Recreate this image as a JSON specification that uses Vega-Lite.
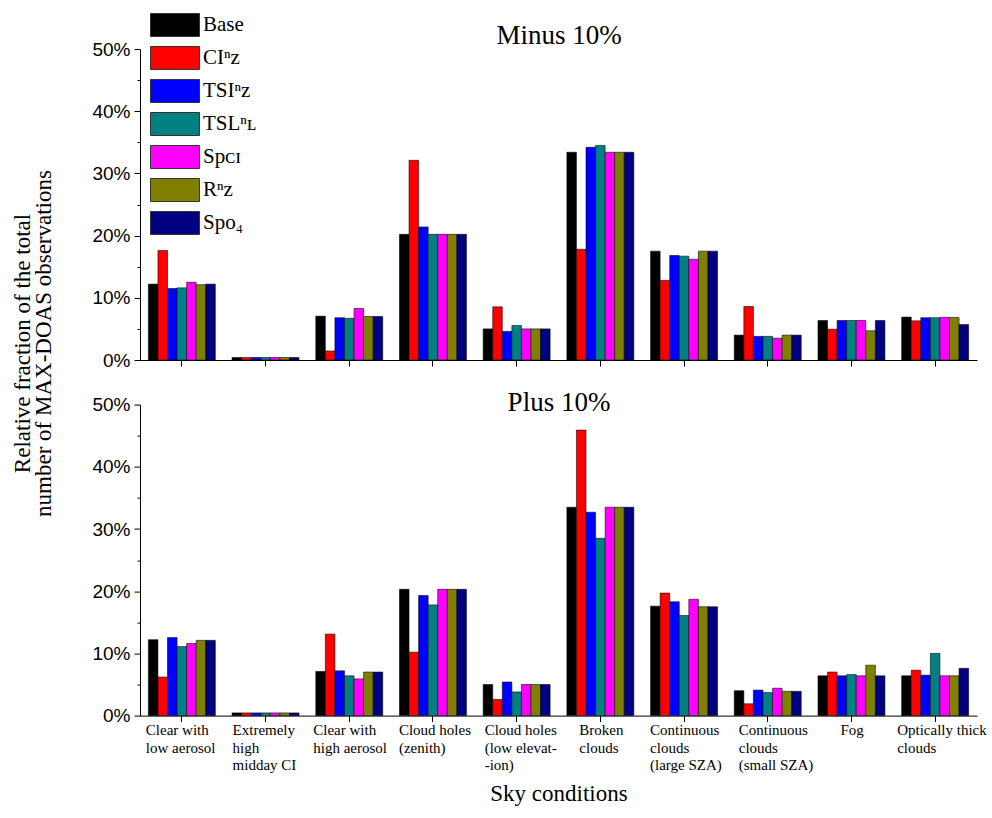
{
  "$schema": "https://vega.github.io/schema/vega-lite/v6.json",
  "padding": {"left": 11, "top": 13, "right": 5, "bottom": 5},
  "config": {"view": {"stroke": null}, "font": "Liberation Serif", "axis": {"domainColor": "#000", "tickColor": "#000", "grid": false, "labelColor": "#000", "titleColor": "#000"}},
  "bounds": "flush",
  "spacing": 44.6,
  "datasets": {
    "d": [
      {"panel": "minus", "cat": "Clear with low aerosol", "series": "Base", "value": 12.2},
      {"panel": "minus", "cat": "Clear with low aerosol", "series": "CI", "value": 17.6},
      {"panel": "minus", "cat": "Clear with low aerosol", "series": "TSI", "value": 11.5},
      {"panel": "minus", "cat": "Clear with low aerosol", "series": "TSL", "value": 11.6},
      {"panel": "minus", "cat": "Clear with low aerosol", "series": "SpCI", "value": 12.5},
      {"panel": "minus", "cat": "Clear with low aerosol", "series": "R", "value": 12.1},
      {"panel": "minus", "cat": "Clear with low aerosol", "series": "SpO4", "value": 12.2},
      {"panel": "minus", "cat": "Extremely high midday CI", "series": "Base", "value": 0.4},
      {"panel": "minus", "cat": "Extremely high midday CI", "series": "CI", "value": 0.4},
      {"panel": "minus", "cat": "Extremely high midday CI", "series": "TSI", "value": 0.4},
      {"panel": "minus", "cat": "Extremely high midday CI", "series": "TSL", "value": 0.4},
      {"panel": "minus", "cat": "Extremely high midday CI", "series": "SpCI", "value": 0.4},
      {"panel": "minus", "cat": "Extremely high midday CI", "series": "R", "value": 0.4},
      {"panel": "minus", "cat": "Extremely high midday CI", "series": "SpO4", "value": 0.4},
      {"panel": "minus", "cat": "Clear with high aerosol", "series": "Base", "value": 7.05},
      {"panel": "minus", "cat": "Clear with high aerosol", "series": "CI", "value": 1.45},
      {"panel": "minus", "cat": "Clear with high aerosol", "series": "TSI", "value": 6.8},
      {"panel": "minus", "cat": "Clear with high aerosol", "series": "TSL", "value": 6.7},
      {"panel": "minus", "cat": "Clear with high aerosol", "series": "SpCI", "value": 8.3},
      {"panel": "minus", "cat": "Clear with high aerosol", "series": "R", "value": 7.0},
      {"panel": "minus", "cat": "Clear with high aerosol", "series": "SpO4", "value": 7.0},
      {"panel": "minus", "cat": "Cloud holes (zenith)", "series": "Base", "value": 20.2},
      {"panel": "minus", "cat": "Cloud holes (zenith)", "series": "CI", "value": 32.1},
      {"panel": "minus", "cat": "Cloud holes (zenith)", "series": "TSI", "value": 21.4},
      {"panel": "minus", "cat": "Cloud holes (zenith)", "series": "TSL", "value": 20.2},
      {"panel": "minus", "cat": "Cloud holes (zenith)", "series": "SpCI", "value": 20.2},
      {"panel": "minus", "cat": "Cloud holes (zenith)", "series": "R", "value": 20.2},
      {"panel": "minus", "cat": "Cloud holes (zenith)", "series": "SpO4", "value": 20.2},
      {"panel": "minus", "cat": "Cloud holes (low elevation)", "series": "Base", "value": 5.0},
      {"panel": "minus", "cat": "Cloud holes (low elevation)", "series": "CI", "value": 8.55},
      {"panel": "minus", "cat": "Cloud holes (low elevation)", "series": "TSI", "value": 4.6},
      {"panel": "minus", "cat": "Cloud holes (low elevation)", "series": "TSL", "value": 5.55},
      {"panel": "minus", "cat": "Cloud holes (low elevation)", "series": "SpCI", "value": 5.0},
      {"panel": "minus", "cat": "Cloud holes (low elevation)", "series": "R", "value": 5.0},
      {"panel": "minus", "cat": "Cloud holes (low elevation)", "series": "SpO4", "value": 5.0},
      {"panel": "minus", "cat": "Broken clouds", "series": "Base", "value": 33.4},
      {"panel": "minus", "cat": "Broken clouds", "series": "CI", "value": 17.8},
      {"panel": "minus", "cat": "Broken clouds", "series": "TSI", "value": 34.2},
      {"panel": "minus", "cat": "Broken clouds", "series": "TSL", "value": 34.5},
      {"panel": "minus", "cat": "Broken clouds", "series": "SpCI", "value": 33.4},
      {"panel": "minus", "cat": "Broken clouds", "series": "R", "value": 33.4},
      {"panel": "minus", "cat": "Broken clouds", "series": "SpO4", "value": 33.4},
      {"panel": "minus", "cat": "Continuous clouds (large SZA)", "series": "Base", "value": 17.5},
      {"panel": "minus", "cat": "Continuous clouds (large SZA)", "series": "CI", "value": 12.8},
      {"panel": "minus", "cat": "Continuous clouds (large SZA)", "series": "TSI", "value": 16.8},
      {"panel": "minus", "cat": "Continuous clouds (large SZA)", "series": "TSL", "value": 16.7},
      {"panel": "minus", "cat": "Continuous clouds (large SZA)", "series": "SpCI", "value": 16.2},
      {"panel": "minus", "cat": "Continuous clouds (large SZA)", "series": "R", "value": 17.5},
      {"panel": "minus", "cat": "Continuous clouds (large SZA)", "series": "SpO4", "value": 17.5},
      {"panel": "minus", "cat": "Continuous clouds (small SZA)", "series": "Base", "value": 4.0},
      {"panel": "minus", "cat": "Continuous clouds (small SZA)", "series": "CI", "value": 8.6},
      {"panel": "minus", "cat": "Continuous clouds (small SZA)", "series": "TSI", "value": 3.8},
      {"panel": "minus", "cat": "Continuous clouds (small SZA)", "series": "TSL", "value": 3.8},
      {"panel": "minus", "cat": "Continuous clouds (small SZA)", "series": "SpCI", "value": 3.5},
      {"panel": "minus", "cat": "Continuous clouds (small SZA)", "series": "R", "value": 4.0},
      {"panel": "minus", "cat": "Continuous clouds (small SZA)", "series": "SpO4", "value": 4.0},
      {"panel": "minus", "cat": "Fog", "series": "Base", "value": 6.35},
      {"panel": "minus", "cat": "Fog", "series": "CI", "value": 4.95},
      {"panel": "minus", "cat": "Fog", "series": "TSI", "value": 6.35},
      {"panel": "minus", "cat": "Fog", "series": "TSL", "value": 6.35},
      {"panel": "minus", "cat": "Fog", "series": "SpCI", "value": 6.35},
      {"panel": "minus", "cat": "Fog", "series": "R", "value": 4.7},
      {"panel": "minus", "cat": "Fog", "series": "SpO4", "value": 6.35},
      {"panel": "minus", "cat": "Optically thick clouds", "series": "Base", "value": 6.9},
      {"panel": "minus", "cat": "Optically thick clouds", "series": "CI", "value": 6.3},
      {"panel": "minus", "cat": "Optically thick clouds", "series": "TSI", "value": 6.8},
      {"panel": "minus", "cat": "Optically thick clouds", "series": "TSL", "value": 6.8},
      {"panel": "minus", "cat": "Optically thick clouds", "series": "SpCI", "value": 6.85},
      {"panel": "minus", "cat": "Optically thick clouds", "series": "R", "value": 6.85},
      {"panel": "minus", "cat": "Optically thick clouds", "series": "SpO4", "value": 5.7},
      {"panel": "plus", "cat": "Clear with low aerosol", "series": "Base", "value": 12.2},
      {"panel": "plus", "cat": "Clear with low aerosol", "series": "CI", "value": 6.2},
      {"panel": "plus", "cat": "Clear with low aerosol", "series": "TSI", "value": 12.55},
      {"panel": "plus", "cat": "Clear with low aerosol", "series": "TSL", "value": 11.1},
      {"panel": "plus", "cat": "Clear with low aerosol", "series": "SpCI", "value": 11.6},
      {"panel": "plus", "cat": "Clear with low aerosol", "series": "R", "value": 12.1},
      {"panel": "plus", "cat": "Clear with low aerosol", "series": "SpO4", "value": 12.1},
      {"panel": "plus", "cat": "Extremely high midday CI", "series": "Base", "value": 0.43},
      {"panel": "plus", "cat": "Extremely high midday CI", "series": "CI", "value": 0.43},
      {"panel": "plus", "cat": "Extremely high midday CI", "series": "TSI", "value": 0.43},
      {"panel": "plus", "cat": "Extremely high midday CI", "series": "TSL", "value": 0.43},
      {"panel": "plus", "cat": "Extremely high midday CI", "series": "SpCI", "value": 0.43},
      {"panel": "plus", "cat": "Extremely high midday CI", "series": "R", "value": 0.43},
      {"panel": "plus", "cat": "Extremely high midday CI", "series": "SpO4", "value": 0.43},
      {"panel": "plus", "cat": "Clear with high aerosol", "series": "Base", "value": 7.1},
      {"panel": "plus", "cat": "Clear with high aerosol", "series": "CI", "value": 13.1},
      {"panel": "plus", "cat": "Clear with high aerosol", "series": "TSI", "value": 7.2},
      {"panel": "plus", "cat": "Clear with high aerosol", "series": "TSL", "value": 6.4},
      {"panel": "plus", "cat": "Clear with high aerosol", "series": "SpCI", "value": 5.9},
      {"panel": "plus", "cat": "Clear with high aerosol", "series": "R", "value": 7.0},
      {"panel": "plus", "cat": "Clear with high aerosol", "series": "SpO4", "value": 7.0},
      {"panel": "plus", "cat": "Cloud holes (zenith)", "series": "Base", "value": 20.3},
      {"panel": "plus", "cat": "Cloud holes (zenith)", "series": "CI", "value": 10.2},
      {"panel": "plus", "cat": "Cloud holes (zenith)", "series": "TSI", "value": 19.3},
      {"panel": "plus", "cat": "Cloud holes (zenith)", "series": "TSL", "value": 17.8},
      {"panel": "plus", "cat": "Cloud holes (zenith)", "series": "SpCI", "value": 20.3},
      {"panel": "plus", "cat": "Cloud holes (zenith)", "series": "R", "value": 20.3},
      {"panel": "plus", "cat": "Cloud holes (zenith)", "series": "SpO4", "value": 20.3},
      {"panel": "plus", "cat": "Cloud holes (low elevation)", "series": "Base", "value": 5.0},
      {"panel": "plus", "cat": "Cloud holes (low elevation)", "series": "CI", "value": 2.6},
      {"panel": "plus", "cat": "Cloud holes (low elevation)", "series": "TSI", "value": 5.4},
      {"panel": "plus", "cat": "Cloud holes (low elevation)", "series": "TSL", "value": 3.8},
      {"panel": "plus", "cat": "Cloud holes (low elevation)", "series": "SpCI", "value": 5.0},
      {"panel": "plus", "cat": "Cloud holes (low elevation)", "series": "R", "value": 5.0},
      {"panel": "plus", "cat": "Cloud holes (low elevation)", "series": "SpO4", "value": 5.0},
      {"panel": "plus", "cat": "Broken clouds", "series": "Base", "value": 33.5},
      {"panel": "plus", "cat": "Broken clouds", "series": "CI", "value": 45.9},
      {"panel": "plus", "cat": "Broken clouds", "series": "TSI", "value": 32.7},
      {"panel": "plus", "cat": "Broken clouds", "series": "TSL", "value": 28.5},
      {"panel": "plus", "cat": "Broken clouds", "series": "SpCI", "value": 33.5},
      {"panel": "plus", "cat": "Broken clouds", "series": "R", "value": 33.5},
      {"panel": "plus", "cat": "Broken clouds", "series": "SpO4", "value": 33.5},
      {"panel": "plus", "cat": "Continuous clouds (large SZA)", "series": "Base", "value": 17.6},
      {"panel": "plus", "cat": "Continuous clouds (large SZA)", "series": "CI", "value": 19.7},
      {"panel": "plus", "cat": "Continuous clouds (large SZA)", "series": "TSI", "value": 18.3},
      {"panel": "plus", "cat": "Continuous clouds (large SZA)", "series": "TSL", "value": 16.1},
      {"panel": "plus", "cat": "Continuous clouds (large SZA)", "series": "SpCI", "value": 18.7},
      {"panel": "plus", "cat": "Continuous clouds (large SZA)", "series": "R", "value": 17.5},
      {"panel": "plus", "cat": "Continuous clouds (large SZA)", "series": "SpO4", "value": 17.5},
      {"panel": "plus", "cat": "Continuous clouds (small SZA)", "series": "Base", "value": 4.0},
      {"panel": "plus", "cat": "Continuous clouds (small SZA)", "series": "CI", "value": 1.9},
      {"panel": "plus", "cat": "Continuous clouds (small SZA)", "series": "TSI", "value": 4.1},
      {"panel": "plus", "cat": "Continuous clouds (small SZA)", "series": "TSL", "value": 3.7},
      {"panel": "plus", "cat": "Continuous clouds (small SZA)", "series": "SpCI", "value": 4.4},
      {"panel": "plus", "cat": "Continuous clouds (small SZA)", "series": "R", "value": 3.9},
      {"panel": "plus", "cat": "Continuous clouds (small SZA)", "series": "SpO4", "value": 3.9},
      {"panel": "plus", "cat": "Fog", "series": "Base", "value": 6.4},
      {"panel": "plus", "cat": "Fog", "series": "CI", "value": 7.0},
      {"panel": "plus", "cat": "Fog", "series": "TSI", "value": 6.4},
      {"panel": "plus", "cat": "Fog", "series": "TSL", "value": 6.6},
      {"panel": "plus", "cat": "Fog", "series": "SpCI", "value": 6.4},
      {"panel": "plus", "cat": "Fog", "series": "R", "value": 8.1},
      {"panel": "plus", "cat": "Fog", "series": "SpO4", "value": 6.4},
      {"panel": "plus", "cat": "Optically thick clouds", "series": "Base", "value": 6.4},
      {"panel": "plus", "cat": "Optically thick clouds", "series": "CI", "value": 7.3},
      {"panel": "plus", "cat": "Optically thick clouds", "series": "TSI", "value": 6.5},
      {"panel": "plus", "cat": "Optically thick clouds", "series": "TSL", "value": 10.0},
      {"panel": "plus", "cat": "Optically thick clouds", "series": "SpCI", "value": 6.4},
      {"panel": "plus", "cat": "Optically thick clouds", "series": "R", "value": 6.4},
      {"panel": "plus", "cat": "Optically thick clouds", "series": "SpO4", "value": 7.6}
    ]
  },
  "vconcat": [
    {
      "width": 837,
      "height": 311,
      "data": {"name": "d"},
      "transform": [{"filter": "datum.panel == 'minus'"}],
      "encoding": {
        "xOffset": {
          "field": "series", "type": "nominal",
          "sort": ["Base", "CI", "TSI", "TSL", "SpCI", "R", "SpO4"],
          "scale": {"paddingInner": 0, "paddingOuter": 0}
        },
        "y": {
          "field": "value", "type": "quantitative",
          "scale": {"domain": [0, 50], "nice": false},
          "axis": {
            "values": [0, 5, 10, 15, 20, 25, 30, 35, 40, 45, 50],
            "labelExpr": "datum.value % 10 == 0 ? datum.value + '%' : ''",
            "tickSize": {"condition": {"test": "datum.value % 10 != 0", "value": 3}, "value": 6},
            "labelFont": "Liberation Sans", "labelFontSize": 19, "labelPadding": 4,
            "title": ["Relative fraction of the total", "number of MAX-DOAS observations"],
            "titleFont": "Liberation Serif", "titleFontSize": 23, "titleFontWeight": "normal",
            "titleX": -106, "titleY": 294, "titleAngle": -90, "titleLineHeight": 21,
            "titleBaseline": "bottom", "titleAlign": "center"
          }
        }
      },
      "layer": [
        {
          "mark": {"type": "bar", "stroke": "#000", "strokeWidth": 0.8, "strokeOpacity": 0.7},
          "encoding": {
            "x": {
              "field": "cat", "type": "nominal",
              "sort": ["Clear with low aerosol", "Extremely high midday CI", "Clear with high aerosol", "Cloud holes (zenith)", "Cloud holes (low elevation)", "Broken clouds", "Continuous clouds (large SZA)", "Continuous clouds (small SZA)", "Fog", "Optically thick clouds"],
              "scale": {"paddingInner": 0.2, "paddingOuter": 0.1},
              "axis": {"title": null, "labels": false, "tickSize": 6}
            },
            "color": {
              "field": "series", "type": "nominal",
              "sort": ["Base", "CI", "TSI", "TSL", "SpCI", "R", "SpO4"],
              "scale": {"domain": ["Base", "CI", "TSI", "TSL", "SpCI", "R", "SpO4"], "range": ["#000000", "#ff0000", "#0000ff", "#008080", "#ff00ff", "#808000", "#000080"]},
              "legend": {
                "orient": "none", "legendX": 10, "legendY": -36, "title": null,
                "symbolType": "M-1,-1H3.26V1H-1Z", "symbolSize": 529,
                "symbolStrokeColor": "#333", "symbolStrokeWidth": 1, "symbolOpacity": 1,
                "labelFont": "Liberation Serif", "labelFontSize": 21, "labelColor": "#000",
                "labelOffset": 29, "rowPadding": 5,
                "labelExpr": "{'Base': 'Base', 'CI': 'CIⁿz', 'TSI': 'TSIⁿz', 'TSL': 'TSLⁿʟ', 'SpCI': 'Spᴄɪ', 'R': 'Rⁿz', 'SpO4': 'Spᴏ₄'}[datum.label]"
              }
            }
          }
        },
        {
          "mark": {"type": "bar", "opacity": 0},
          "encoding": {
            "x": {
              "field": "cat", "type": "nominal",
              "sort": ["Clear with low aerosol", "Extremely high midday CI", "Clear with high aerosol", "Cloud holes (zenith)", "Cloud holes (low elevation)", "Broken clouds", "Continuous clouds (large SZA)", "Continuous clouds (small SZA)", "Fog", "Optically thick clouds"],
              "scale": {"paddingInner": 0.2, "paddingOuter": 0.1},
              "axis": {"orient": "top", "domain": false, "ticks": false, "labels": false, "title": "Minus 10%", "titleFont": "Liberation Serif", "titleFontSize": 27, "titleFontWeight": "normal", "titleBaseline": "alphabetic", "titleY": -6, "titleColor": "#000"}
            }
          }
        }
      ],
      "resolve": {"axis": {"x": "independent"}}
    },
    {
      "width": 837,
      "height": 311,
      "data": {"name": "d"},
      "transform": [{"filter": "datum.panel == 'plus'"}],
      "encoding": {
        "xOffset": {
          "field": "series", "type": "nominal",
          "sort": ["Base", "CI", "TSI", "TSL", "SpCI", "R", "SpO4"],
          "scale": {"paddingInner": 0, "paddingOuter": 0}
        },
        "y": {
          "field": "value", "type": "quantitative",
          "scale": {"domain": [0, 50], "nice": false},
          "axis": {
            "values": [0, 5, 10, 15, 20, 25, 30, 35, 40, 45, 50],
            "labelExpr": "datum.value % 10 == 0 ? datum.value + '%' : ''",
            "tickSize": {"condition": {"test": "datum.value % 10 != 0", "value": 3}, "value": 6},
            "labelFont": "Liberation Sans", "labelFontSize": 19, "labelPadding": 4,
            "title": null
          }
        }
      },
      "layer": [
        {
          "mark": {"type": "bar", "stroke": "#000", "strokeWidth": 0.8, "strokeOpacity": 0.7},
          "encoding": {
            "x": {
              "field": "cat", "type": "nominal",
              "sort": ["Clear with low aerosol", "Extremely high midday CI", "Clear with high aerosol", "Cloud holes (zenith)", "Cloud holes (low elevation)", "Broken clouds", "Continuous clouds (large SZA)", "Continuous clouds (small SZA)", "Fog", "Optically thick clouds"],
              "scale": {"paddingInner": 0.2, "paddingOuter": 0.1},
              "axis": {
                "title": "Sky conditions", "titleFont": "Liberation Serif", "titleFontSize": 23, "titleFontWeight": "normal", "titlePadding": 10,
                "tickSize": 6, "labelAngle": 0, "labelFont": "Liberation Serif", "labelFontSize": 15, "labelLineHeight": 17.5,
                "labelPadding": 1, "labelBaseline": "top", "labelAlign": "left",
                "labelExpr": "{'Clear with low aerosol': ['Clear with', 'low aerosol'], 'Extremely high midday CI': ['Extremely', 'high', 'midday CI'], 'Clear with high aerosol': ['Clear with', 'high aerosol'], 'Cloud holes (zenith)': ['Cloud holes', '(zenith)'], 'Cloud holes (low elevation)': ['Cloud holes', '(low elevat-', ' -ion)'], 'Broken clouds': ['Broken', 'clouds'], 'Continuous clouds (large SZA)': ['Continuous', 'clouds', '(large SZA)'], 'Continuous clouds (small SZA)': ['Continuous', 'clouds', '(small SZA)'], 'Fog': ['Fog'], 'Optically thick clouds': ['Optically thick', 'clouds']}[datum.label]",
                "labelOffset": {
                  "condition": [
                    {"test": "datum.value == 'Extremely high midday CI'", "value": -33},
                    {"test": "datum.value == 'Cloud holes (zenith)'", "value": -34},
                    {"test": "datum.value == 'Cloud holes (low elevation)'", "value": -32},
                    {"test": "datum.value == 'Broken clouds'", "value": -21},
                    {"test": "datum.value == 'Continuous clouds (large SZA)'", "value": -34},
                    {"test": "datum.value == 'Continuous clouds (small SZA)'", "value": -29},
                    {"test": "datum.value == 'Fog'", "value": -11},
                    {"test": "datum.value == 'Optically thick clouds'", "value": -38}
                  ],
                  "value": -36
                }
              }
            },
            "color": {
              "field": "series", "type": "nominal",
              "scale": {"domain": ["Base", "CI", "TSI", "TSL", "SpCI", "R", "SpO4"], "range": ["#000000", "#ff0000", "#0000ff", "#008080", "#ff00ff", "#808000", "#000080"]},
              "legend": null
            }
          }
        },
        {
          "mark": {"type": "bar", "opacity": 0},
          "encoding": {
            "x": {
              "field": "cat", "type": "nominal",
              "sort": ["Clear with low aerosol", "Extremely high midday CI", "Clear with high aerosol", "Cloud holes (zenith)", "Cloud holes (low elevation)", "Broken clouds", "Continuous clouds (large SZA)", "Continuous clouds (small SZA)", "Fog", "Optically thick clouds"],
              "scale": {"paddingInner": 0.2, "paddingOuter": 0.1},
              "axis": {"orient": "top", "domain": false, "ticks": false, "labels": false, "title": "Plus 10%", "titleFont": "Liberation Serif", "titleFontSize": 27, "titleFontWeight": "normal", "titleBaseline": "alphabetic", "titleY": 5.4, "titleColor": "#000"}
            }
          }
        }
      ],
      "resolve": {"axis": {"x": "independent"}}
    }
  ],
  "resolve": {"scale": {"color": "independent", "x": "independent", "y": "independent"}, "legend": {"color": "independent"}}
}
